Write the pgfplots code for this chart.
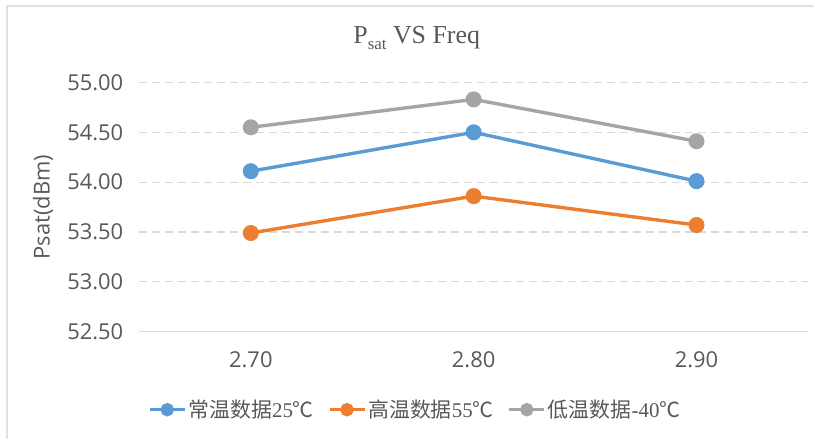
\documentclass[border=0pt]{standalone}
\usepackage{pgfplots}
\pgfplotsset{compat=1.18}
\usepackage{fontspec}
\setmainfont{Liberation Serif}
\newfontfamily\cjk{Noto Sans CJK SC}
\newfontfamily\tickfont{Open Sans}
\definecolor{cblue}{HTML}{5B9BD5}
\definecolor{corange}{HTML}{ED7D31}
\definecolor{cgray}{HTML}{A5A5A5}
\definecolor{txt}{HTML}{595959}
\definecolor{gridc}{HTML}{D9D9D9}
\definecolor{framec}{HTML}{DDE3E8}
\begin{document}
\begin{tikzpicture}[x=1bp,y=1bp]
\fill[white] (0,0) rectangle (815,439);
\draw[framec, line width=1.2bp] (7,0) -- (7,433) -- (815,433);
\node[anchor=base, text=txt, inner sep=0pt] at (417,395.5) {\fontsize{26}{30}\selectfont P\raisebox{-6bp}{\fontsize{17}{17}\selectfont sat} VS Freq};
\begin{axis}[
  at={(139.5bp,107bp)}, anchor=south west,
  scale only axis, width=669bp, height=249.5bp,
  xmin=2.65, xmax=2.95, ymin=52.5, ymax=55,
  xtick={2.7,2.8,2.9}, ytick={52.5,53,53.5,54,54.5,55},
  axis x line*=bottom, axis y line*=left,
  x axis line style={gridc, line width=1.3bp, -},
  y axis line style={draw=none, -},
  major tick length=0pt,
  ymajorgrids, grid style={gridc, line width=1.2bp, dash pattern=on 8bp off 5bp},
  /pgf/number format/.cd, fixed, fixed zerofill, precision=2, assume math mode=true, /pgfplots/.cd,
  tick label style={font=\tickfont\fontsize{22}{24}\selectfont, text=txt},
  yticklabel style={anchor=east, inner sep=0pt, xshift=-16bp},
  xticklabel style={anchor=north, inner sep=0pt, yshift=-20bp},
  ylabel={Psat(dBm)},
  every axis y label/.style={at={(rel axis cs:0,0.5)}, xshift=-96.5bp, rotate=90, anchor=center, font=\tickfont\fontsize{22}{24}\selectfont, text=txt},
  legend columns=3,
  legend style={at={(0.4126,-0.3126)}, anchor=center, draw=none, fill=none,
    font=\fontsize{21}{24}\selectfont, text=txt,
    /tikz/every even column/.append style={column sep=12bp},
    cells={anchor=west}},
  legend image code/.code={
    \draw[#1, mark=none] (0bp,0bp) -- (35bp,0bp);
    \draw[#1, mark size=5bp] plot coordinates {(17.5bp,0bp)};
  },
  every axis plot/.append style={line width=3.4bp, mark=*, mark size=6.3bp},
]
\addplot[cblue, mark options={fill=cblue, draw=cblue}] coordinates {(2.7,54.11) (2.8,54.50) (2.9,54.01)};
\addplot[corange, mark options={fill=corange, draw=corange}] coordinates {(2.7,53.49) (2.8,53.86) (2.9,53.57)};
\addplot[cgray, mark options={fill=cgray, draw=cgray}] coordinates {(2.7,54.55) (2.8,54.83) (2.9,54.41)};
\legend{{\cjk 常温数据}25{\cjk ℃}, {\cjk 高温数据}55{\cjk ℃}, {\cjk 低温数据}-40{\cjk ℃}}
\end{axis}
\end{tikzpicture}
\end{document}
